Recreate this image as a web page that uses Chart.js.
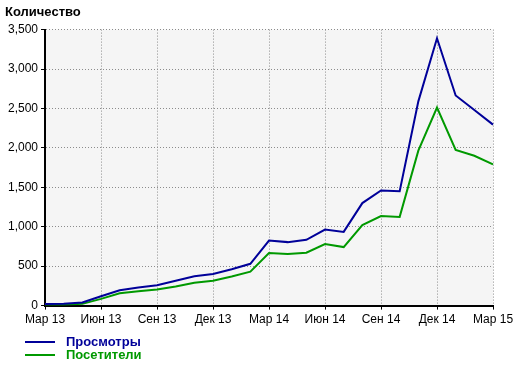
<!DOCTYPE html>
<html lang="ru">
  <head>
    <meta charset="UTF-8" />
    <title>Количество</title>
    <script src="https://cdn.jsdelivr.net/npm/chart.js"></script>
    <style>
      body {
        margin: 0;
        background: #fff;
      }
      .wrap {
        position: relative;
        width: 520px;
        height: 366px;
      }
      #legenda {
        position: absolute;
        left: 25px;
        top: 335px;
        font: bold 13px 'Liberation Sans', Arial, sans-serif;
      }
      #legenda div {
        height: 13px;
        line-height: 13px;
        display: flex;
        align-items: center;
      }
      #legenda span.linha {
        display: inline-block;
        width: 30px;
        height: 2px;
        margin-right: 11px;
      }
    </style>
  </head>
  <body>
    <div class="wrap">
      <canvas id="myChart"></canvas>
      <div id="legenda"></div>
    </div>

    <script>
      // dados do gráfico
      const meses = [
        'Мар 13', 'Апр 13', 'Май 13', 'Июн 13', 'Июл 13', 'Авг 13', 'Сен 13',
        'Окт 13', 'Ноя 13', 'Дек 13', 'Янв 14', 'Фев 14', 'Мар 14', 'Апр 14',
        'Май 14', 'Июн 14', 'Июл 14', 'Авг 14', 'Сен 14', 'Окт 14', 'Ноя 14',
        'Дек 14', 'Янв 15', 'Фев 15', 'Мар 15'
      ]
      const prosmotry = [
        20, 25, 40, 118, 195, 230, 258, 315, 372, 400, 462, 530, 825, 805,
        835, 965, 935, 1300, 1460, 1450, 2590, 3390, 2665, 2480, 2295
      ]
      const posetiteli = [
        10, 12, 22, 85, 156, 181, 203, 241, 290, 316, 368, 430, 668, 655,
        670, 780, 742, 1020, 1135, 1125, 1965, 2512, 1975, 1900, 1790
      ]
      const yTicks = [0, 500, 1000, 1500, 2000, 2500, 3000, 3500]

      const fonte = "'Liberation Sans', Arial, sans-serif"
      const cinzaGrade = '#8c8c8c'

      // fundo cinza só na área do gráfico
      const fundoArea = {
        id: 'fundoArea',
        beforeDraw(chart) {
          const { ctx, chartArea } = chart
          ctx.save()
          ctx.fillStyle = '#f5f5f5'
          ctx.fillRect(
            chartArea.left,
            chartArea.top,
            chartArea.right - chartArea.left,
            chartArea.bottom - chartArea.top
          )
          ctx.restore()
        }
      }

      const canvas = document.getElementById('myChart')
      canvas.width = 520
      canvas.height = 366

      const myChart = new Chart(canvas, {
        type: 'line',
        data: {
          labels: meses,
          datasets: [
            {
              label: 'Просмотры',
              data: prosmotry,
              borderColor: '#000099',
              borderWidth: 2,
              pointRadius: 0,
              tension: 0
            },
            {
              label: 'Посетители',
              data: posetiteli,
              borderColor: '#009900',
              borderWidth: 2,
              pointRadius: 0,
              tension: 0
            }
          ]
        },
        options: {
          responsive: false,
          animation: false,
          locale: 'en-US',
          layout: { padding: { left: 5, right: 27, top: 5, bottom: 36 } },
          plugins: {
            legend: { display: false },
            tooltip: { enabled: false },
            title: {
              display: true,
              text: 'Количество',
              align: 'start',
              color: '#000',
              font: { family: fonte, size: 13, weight: 'bold' },
              padding: { top: 0, bottom: 9 }
            }
          },
          scales: {
            x: {
              offset: false,
              grid: {
                color: (c) => (c.index % 3 === 0 ? cinzaGrade : 'transparent'),
                tickColor: (c) => (c.index % 3 === 0 ? '#000' : 'transparent'),
                tickLength: 4,
                lineWidth: 1
              },
              border: { display: true, color: '#000', width: 2, dash: [1, 2] },
              ticks: {
                autoSkip: false,
                maxRotation: 0,
                color: '#000',
                padding: 3,
                font: { family: fonte, size: 12 },
                callback: (v, i) => (i % 3 === 0 ? meses[i] : '')
              }
            },
            y: {
              min: 0,
              max: 3500,
              afterBuildTicks: (axis) => {
                axis.ticks = yTicks.map((v) => ({ value: v }))
              },
              grid: {
                color: cinzaGrade,
                tickColor: '#000',
                tickLength: 4,
                lineWidth: 1
              },
              border: { display: true, color: '#000', width: 2, dash: [1, 2] },
              ticks: {
                color: '#000',
                padding: 3,
                font: { family: fonte, size: 12 }
              }
            }
          }
        },
        plugins: [fundoArea]
      })

      // legenda em duas linhas, embaixo à esquerda
      const legenda = document.getElementById('legenda')
      myChart.data.datasets.forEach(function (ds) {
        const item = document.createElement('div')
        item.style.color = ds.borderColor
        item.innerHTML =
          "<span class='linha' style='background:" + ds.borderColor + "'></span>" + ds.label
        legenda.appendChild(item)
      })
    </script>
  </body>
</html>
